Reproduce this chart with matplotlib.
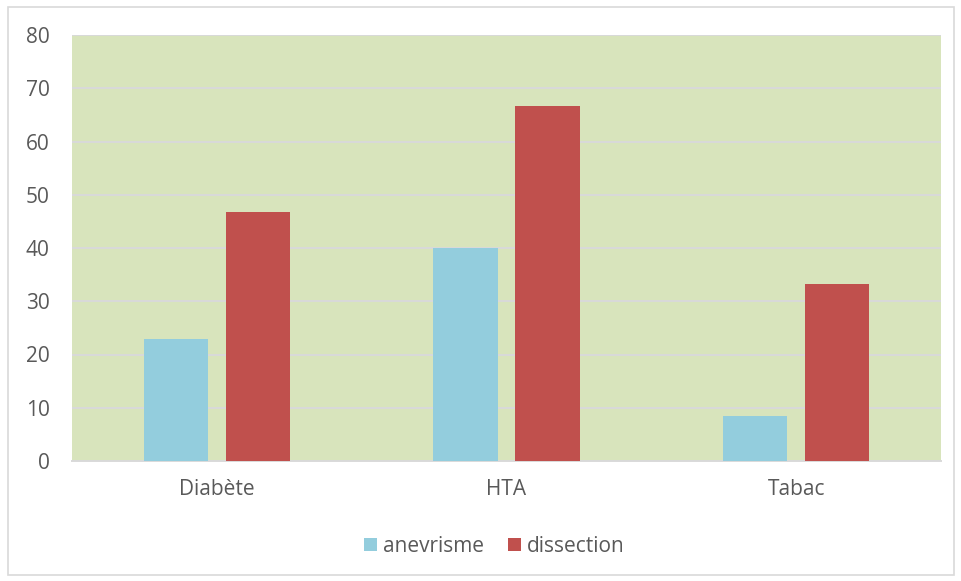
import numpy as np
import matplotlib.pyplot as plt
from matplotlib.patches import Rectangle

categories = ['Diabète', 'HTA', 'Tabac']
anevrisme = [23, 40, 8.5]
dissection = [46.7, 66.7, 33.3]
yticks = [0, 10, 20, 30, 40, 50, 60, 70, 80]

plt.rcParams['font.family'] = ['Open Sans', 'DejaVu Sans']
text_color = '#595959'

fig = plt.figure(figsize=(9.62, 5.81), dpi=100)
ax = fig.add_axes([72 / 962, 1 - 461 / 581, 869 / 962, 426 / 581])

# outer chart frame
fig.patches.append(Rectangle((8 / 962, 6 / 581), 946 / 962, 568 / 581,
                             transform=fig.transFigure, fill=False,
                             edgecolor='#d9d9d9', linewidth=1.2))

x = np.arange(len(categories))
width = 0.222
offset = 0.142
ax.bar(x - offset, anevrisme, width, color='#93cddd', label='anevrisme', zorder=3)
ax.bar(x + offset, dissection, width, color='#c0504d', label='dissection', zorder=3)

ax.set_facecolor('#d8e4bc')
ax.set_xlim(-0.5, 2.5)
ax.set_ylim(0, 80)
ax.set_yticks(yticks)
ax.set_xticks(x)
ax.set_xticklabels(categories)
ax.yaxis.grid(True, color='#d9d9d9', linewidth=1.4, zorder=0)
ax.set_axisbelow(True)
for side in ['top', 'right', 'left']:
  ax.spines[side].set_visible(False)
ax.spines['bottom'].set_color('#d9d9d9')
ax.spines['bottom'].set_linewidth(1.4)
ax.tick_params(axis='both', length=0, labelsize=15, labelcolor=text_color)
ax.tick_params(axis='y', pad=16)
ax.tick_params(axis='x', pad=13)

ax.legend(loc='center', bbox_to_anchor=(0.486, -0.2), ncol=2, frameon=False,
          fontsize=15, labelcolor=text_color, handlelength=0.63,
          handleheight=0.63, handletextpad=0.3, columnspacing=1.15)

plt.savefig('out.png', dpi=100)
